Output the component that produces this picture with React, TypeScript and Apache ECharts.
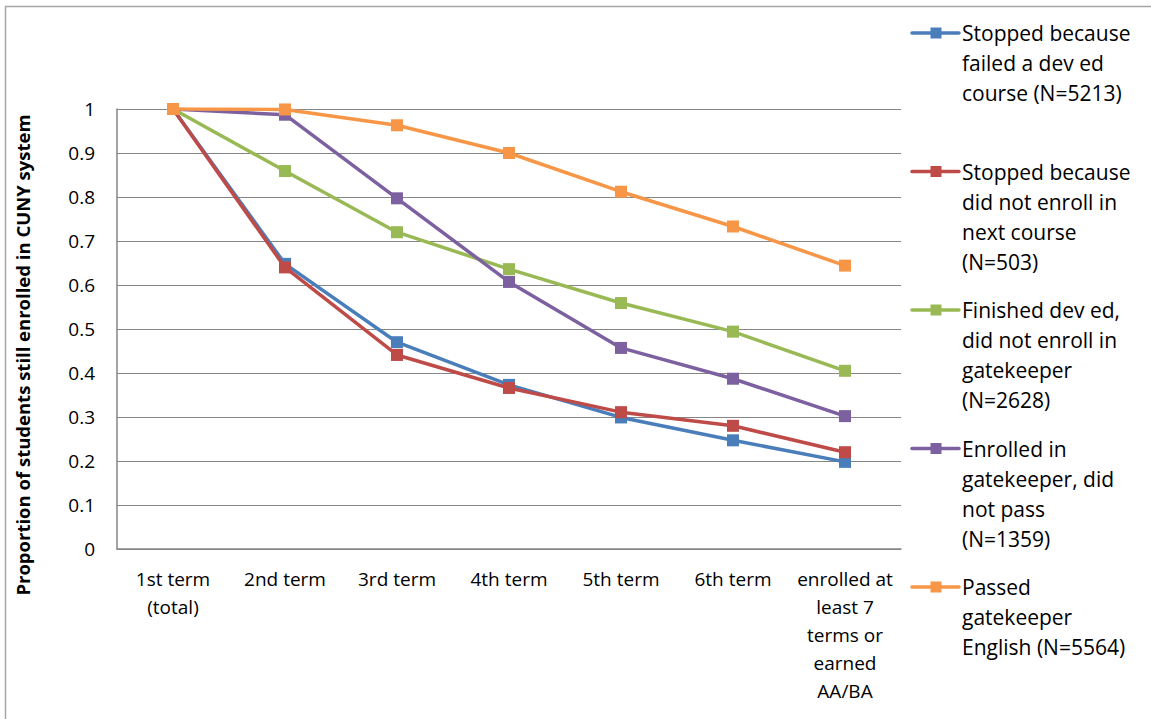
import React, { useEffect, useRef } from "react";
import * as echarts from "echarts";

const categories = [
  "1st term\n(total)",
  "2nd term",
  "3rd term",
  "4th term",
  "5th term",
  "6th term",
  "enrolled at\nleast 7\nterms or\nearned\nAA/BA",
];

const seriesNames = [
  "Stopped because\nfailed a dev ed\ncourse (N=5213)",
  "Stopped because\ndid not enroll in\nnext course\n(N=503)",
  "Finished dev ed,\ndid not enroll in\ngatekeeper\n(N=2628)",
  "Enrolled in\ngatekeeper, did\nnot pass\n(N=1359)",
  "Passed\ngatekeeper\nEnglish (N=5564)",
];

const failedDevEd = [1, 0.648, 0.47, 0.373, 0.299, 0.247, 0.198];
const notEnrollNext = [1, 0.64, 0.441, 0.366, 0.311, 0.28, 0.22];
const finishedDevEd = [1, 0.859, 0.72, 0.636, 0.559, 0.494, 0.405];
const enrolledGatekeeper = [1, 0.987, 0.797, 0.607, 0.457, 0.387, 0.302];
const passedGatekeeper = [1, 0.999, 0.963, 0.9, 0.812, 0.733, 0.644];

const seriesData = [failedDevEd, notEnrollNext, finishedDevEd, enrolledGatekeeper, passedGatekeeper];
const colors = ["#4A7EBB", "#BE4B48", "#98B954", "#7D60A0", "#F79646"];

const FONT = "'Open Sans', sans-serif";

export default function App() {
  const ref = useRef<HTMLDivElement>(null);
  useEffect(() => {
    if (!ref.current) return;
    const chart = echarts.init(ref.current, undefined, { renderer: "svg" });
    const legendGraphics: any[] = [];
    seriesNames.forEach((name, i) => {
      const y = 33 + 138.5 * i;
      legendGraphics.push({
        type: "line",
        shape: { x1: 912, y1: y, x2: 959, y2: y },
        style: { stroke: colors[i], lineWidth: 3.5, lineCap: "round" },
      });
      legendGraphics.push({
        type: "rect",
        shape: { x: 930.5, y: y - 5.5, width: 11, height: 11 },
        style: { fill: colors[i] },
      });
      legendGraphics.push({
        type: "text",
        x: 962,
        y: y - 15,
        style: {
          text: name,
          fontSize: 21,
          fontFamily: FONT,
          lineHeight: 30,
          fill: "#000",
          textVerticalAlign: "top",
          verticalAlign: "top",
        },
      });
    });
    chart.setOption({
      animation: false,
      backgroundColor: "#fff",
      textStyle: { fontFamily: FONT },
      grid: { left: 117, right: 250, top: 109, bottom: 170, containLabel: false },
      xAxis: {
        type: "category",
        data: categories,
        boundaryGap: true,
        axisLine: { lineStyle: { color: "#868686", width: 1.5 } },
        axisTick: { show: false },
        axisLabel: {
          interval: 0,
          color: "#000",
          fontSize: 19,
          fontFamily: FONT,
          lineHeight: 28,
          margin: 16,
          align: "center",
        },
        splitLine: { show: false },
      },
      yAxis: {
        type: "value",
        min: 0,
        max: 1,
        interval: 0.1,
        axisLine: { show: true, lineStyle: { color: "#868686", width: 1.5 } },
        axisTick: { show: false },
        axisLabel: {
          color: "#000",
          fontSize: 19,
          fontFamily: FONT,
          margin: 22,
          formatter: (v: number) => String(Math.round(v * 10) / 10),
        },
        splitLine: { show: true, lineStyle: { color: "#868686", width: 1 } },
      },
      series: seriesData.map((d, i) => ({
        name: seriesNames[i],
        type: "line",
        data: d,
        symbol: "rect",
        symbolSize: 12,
        lineStyle: { color: colors[i], width: 3.5 },
        itemStyle: { color: colors[i] },
        z: 2 + i,
      })),
      graphic: [
        {
          type: "rect",
          shape: { x: 5.5, y: 6.5, width: 1200, height: 760 },
          style: { fill: "none", stroke: "#A6A6A6", lineWidth: 1.5 },
          silent: true,
          z: -1,
        },
        {
          type: "text",
          x: 22,
          y: 355,
          rotation: Math.PI / 2,
          style: {
            text: "Proportion of students still enrolled in CUNY system",
            fontSize: 18.5,
            fontWeight: "bold",
            fontFamily: FONT,
            fill: "#000",
            align: "center",
            verticalAlign: "middle",
            textAlign: "center",
            textVerticalAlign: "middle",
          },
        },
        ...legendGraphics,
      ],
    });
    return () => chart.dispose();
  }, []);
  return (
    <div
      ref={ref}
      style={{ position: "fixed", left: 0, top: 0, width: 1151, height: 719 }}
    />
  );
}
